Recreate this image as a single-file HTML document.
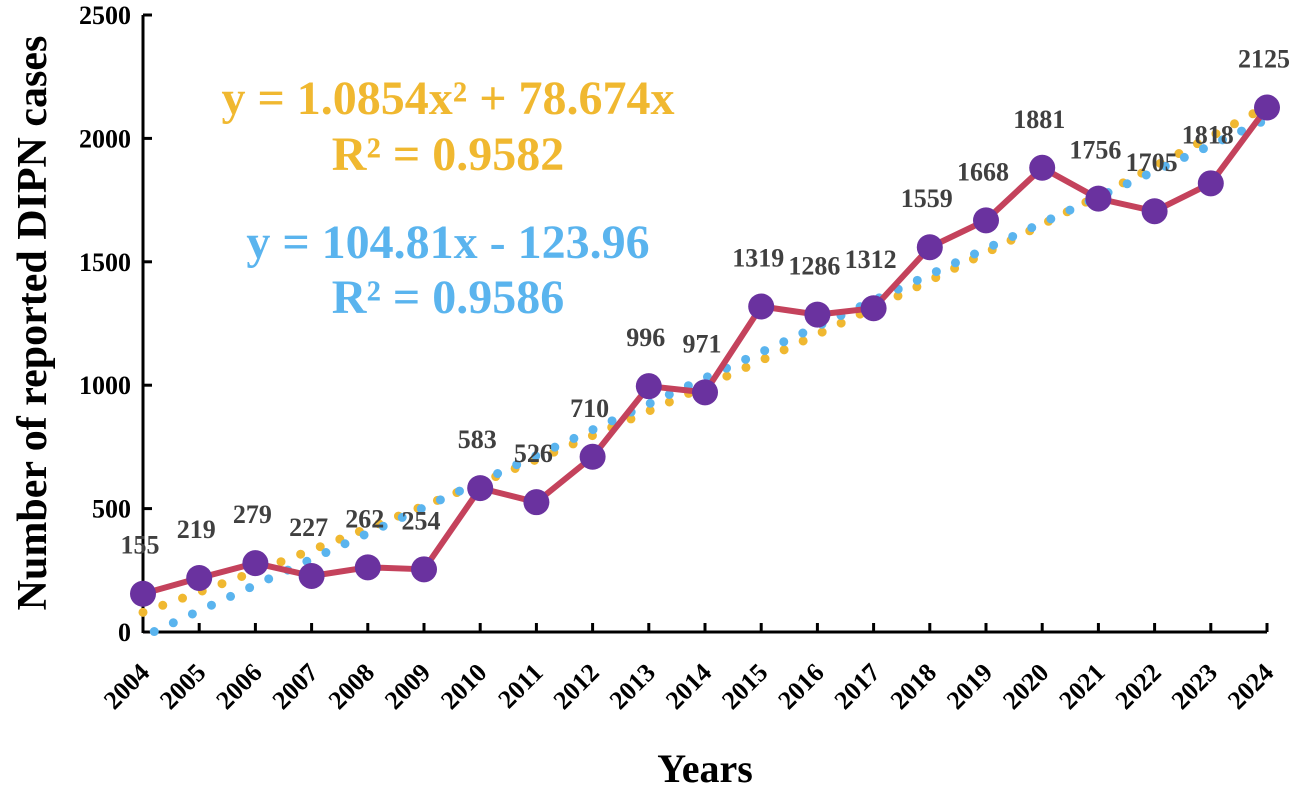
<!DOCTYPE html>
<html><head><meta charset="utf-8"><style>
body{margin:0;background:#fff}
text{font-family:"Liberation Serif",serif;font-weight:bold}
</style></head><body>
<svg id="c" width="1301" height="787"></svg>
<script>
const years=[2004,2005,2006,2007,2008,2009,2010,2011,2012,2013,2014,2015,2016,2017,2018,2019,2020,2021,2022,2023,2024];
const cases=[155,219,279,227,262,254,583,526,710,996,971,1319,1286,1312,1559,1668,1881,1756,1705,1818,2125];
const yTicks=[0,500,1000,1500,2000,2500];
const quadCoef=[1.0854,78.674];
const linCoef=[104.81,-123.96];
const svg=document.getElementById('c');
const NS='http://www.w3.org/2000/svg';
const x0=143,x1=1267,y0=632,yTop=15;
const X=i=>x0+(x1-x0)*i/(years.length-1);
const Y=v=>y0-(y0-yTop)*v/2500;
function mk(t,a,p){const e=document.createElementNS(NS,t);for(const k in a)e.setAttribute(k,a[k]);(p||svg).appendChild(e);return e;}
let ax=mk('line',{x1:x0,y1:y0,x2:x1,y2:y0,stroke:'#000','stroke-width':3});

let ay=mk('line',{x1:x0,y1:y0+1,x2:x0,y2:yTop,stroke:'#000','stroke-width':3});

yTicks.forEach(v=>{
 mk('line',{x1:x0,y1:Y(v),x2:x0+9,y2:Y(v),stroke:'#000','stroke-width':3});
 const t=mk('text',{x:x0-12,y:Y(v)+9,'text-anchor':'end','font-size':26});t.textContent=v;
 
});
years.forEach((yr,i)=>{
 mk('line',{x1:X(i),y1:y0,x2:X(i),y2:y0-9,stroke:'#000','stroke-width':3});
 const t=mk('text',{x:0,y:0,'text-anchor':'end','font-size':26,transform:`translate(${X(i)+8},${y0+42}) rotate(-45)`});t.textContent=yr;
 
});
function dotted(f,col,name){
 let pts=[];const n=years.length;
 for(let s=0;s<=400;s++){const xi=1+(n-1)*s/400;let v=f(xi);if(v<0)continue;pts.push(X(xi-1)+','+Y(v));}
 const p=mk('polyline',{points:pts.join(' '),fill:'none',stroke:col,'stroke-width':9,'stroke-linecap':'round','stroke-dasharray':'0 21'});
 
}
dotted(x=>quadCoef[0]*x*x+quadCoef[1]*x,'#f0b830','quadratic-trendline');
dotted(x=>linCoef[0]*x+linCoef[1],'#5ab4ee','linear-trendline');
const line=mk('polyline',{points:cases.map((v,i)=>X(i)+','+Y(v)).join(' '),fill:'none',stroke:'#c4425c','stroke-width':6,'stroke-linejoin':'round'});

cases.forEach((v,i)=>{
 const c=mk('circle',{cx:X(i),cy:Y(v),r:13,fill:'#6a329f'});
 
 const t=mk('text',{x:X(i)-3,y:Y(v)-40,'text-anchor':'middle','font-size':26,fill:'#404040'});t.textContent=v;
 
});
[['y = 1.0854x² + 78.674x',114,'#f0b830','quadratic-equation'],['R² = 0.9582',170,'#f0b830','quadratic-r2'],
 ['y = 104.81x - 123.96',258,'#5ab4ee','linear-equation'],['R² = 0.9586',313,'#5ab4ee','linear-r2']].forEach(e=>{
 const t=mk('text',{x:448,y:e[1],'text-anchor':'middle','font-size':48,fill:e[2]});t.textContent=e[0];
 
});
const xt=mk('text',{x:705,y:782,'text-anchor':'middle','font-size':40});xt.textContent='Years';

const yt=mk('text',{x:0,y:0,'text-anchor':'middle','font-size':42,transform:'translate(46,323) rotate(-90)'});yt.textContent='Number of reported DIPN cases';

</script>
</body></html>
